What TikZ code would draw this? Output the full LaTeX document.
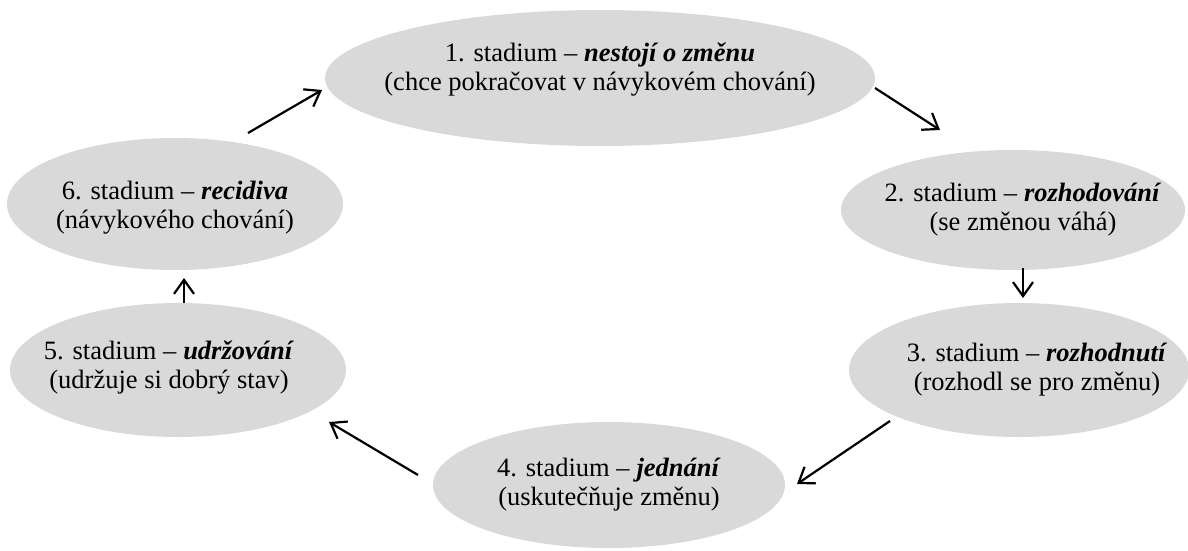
\documentclass[tikz,border=0pt]{standalone}
\usepackage{fontspec}
\setmainfont{Liberation Serif}
\usepackage{tikz}
\usetikzlibrary{shapes.geometric, arrows.meta}
\definecolor{stagegray}{RGB}{217, 217, 217}

\tikzset{
  stage/.style={ellipse, fill=stagegray, inner sep=0pt, outer sep=0pt},
  stage text/.style={align=center, inner sep=0pt, font=\fontsize{26.5}{29}\selectfont},
  cycle arrow/.style={line width=2.2pt, -{Straight Barb[length=14pt, width=20pt, line width=2.2pt]}}
}
\newcommand{\key}[1]{\textbf{\textit{#1}}}

\begin{document}
\begin{tikzpicture}[x=1pt, y=1pt]
  \useasboundingbox (0, 0) rectangle (1188, 550);

  % stages of the cycle
  \node[stage, minimum width=550, minimum height=136] (e1) at (600, 472) {};
  \node[stage, minimum width=344, minimum height=120] (e2) at (1013, 340) {};
  \node[stage, minimum width=340, minimum height=134] (e3) at (1019, 180) {};
  \node[stage, minimum width=352, minimum height=126] (e4) at (609, 65) {};
  \node[stage, minimum width=336, minimum height=134] (e5) at (178, 180) {};
  \node[stage, minimum width=336, minimum height=132] (e6) at (175, 346) {};

  \node[stage text] (t1) at ([yshift=8pt]e1.center)
    {1. stadium -- \key{nestojí o změnu}\\(chce pokračovat v návykovém chování)};
  \node[stage text] (t2) at ([xshift=10pt]e2.center)
    {2. stadium -- \key{rozhodování}\\(se změnou váhá)};
  \node[stage text] (t3) at ([xshift=18pt]e3.center)
    {3. stadium -- \key{rozhodnutí}\\(rozhodl se pro změnu)};
  \node[stage text] (t4) at (e4.center)
    {4. stadium -- \key{jednání}\\(uskutečňuje změnu)};
  \node[stage text] (t5) at ([shift={(-9pt,2pt)}]e5.center)
    {5. stadium -- \key{udržování}\\(udržuje si dobrý stav)};
  \node[stage text] (t6) at ([yshift=-4pt]e6.center)
    {6. stadium -- \key{recidiva}\\(návykového chování)};

  % arrows between the stages
  \draw[cycle arrow] ([shift={(275pt,-10pt)}]e1.center) -- ([shift={(-73pt,80pt)}]e2.center);
  \draw[cycle arrow] ([shift={(10pt,-58pt)}]e2.center) -- ([shift={(4pt,72pt)}]e3.center);
  \draw[cycle arrow] ([shift={(-129pt,-51pt)}]e3.center) -- ([shift={(188pt,1pt)}]e4.center);
  \draw[cycle arrow] ([shift={(-191pt,10pt)}]e4.center) -- ([shift={(151pt,-52pt)}]e5.center);
  \draw[cycle arrow] ([shift={(6pt,67pt)}]e5.center) -- ([shift={(9pt,-74pt)}]e6.center);
  \draw[cycle arrow] ([shift={(73pt,71pt)}]e6.center) -- ([shift={(-278pt,-12pt)}]e1.center);
\end{tikzpicture}
\end{document}
